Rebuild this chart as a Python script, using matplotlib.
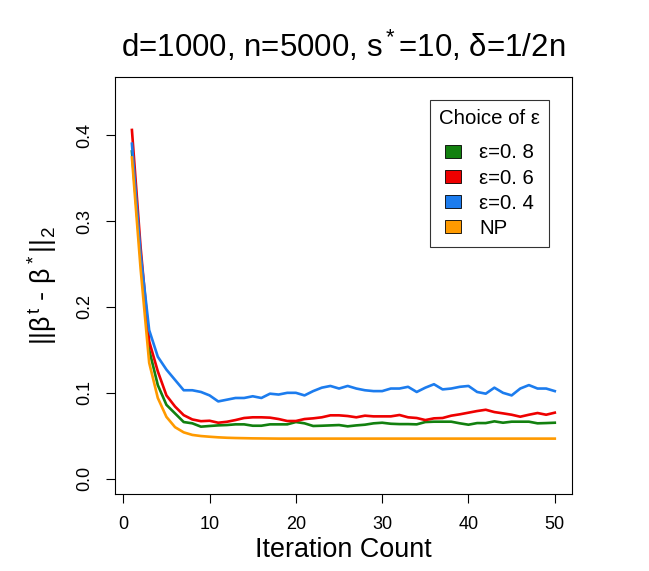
import numpy as np
import matplotlib
matplotlib.use('Agg')
import matplotlib.pyplot as plt
from matplotlib.patches import Patch

plt.rcParams['font.family'] = ['Liberation Sans', 'DejaVu Sans']
plt.rcParams['mathtext.fontset'] = 'custom'
plt.rcParams['mathtext.rm'] = 'Liberation Sans'
plt.rcParams['mathtext.it'] = 'Liberation Sans'
plt.rcParams['mathtext.bf'] = 'Liberation Sans'

iters = np.arange(1, 51)

eps08 = [0.381, 0.258, 0.150, 0.109, 0.086, 0.076, 0.066, 0.0645, 0.0606, 0.0614,
         0.0621, 0.0625, 0.0633, 0.0633, 0.0617, 0.0617, 0.0633, 0.0633, 0.0633, 0.0660,
         0.0645, 0.0614, 0.0617, 0.0621, 0.0625, 0.0610, 0.0621, 0.0629, 0.0645, 0.0652,
         0.0640, 0.0636, 0.0636, 0.0633, 0.0660, 0.0664, 0.0664, 0.0664, 0.0645, 0.0629,
         0.0648, 0.0648, 0.0668, 0.0652, 0.0664, 0.0664, 0.0664, 0.0645, 0.0648, 0.0652]
eps06 = [0.406, 0.270, 0.160, 0.125, 0.097, 0.084, 0.074, 0.069, 0.067, 0.0675,
         0.0652, 0.0663, 0.0683, 0.0707, 0.0715, 0.0715, 0.0711, 0.0695, 0.0672, 0.0672,
         0.0695, 0.0703, 0.0715, 0.0738, 0.0738, 0.0730, 0.0715, 0.0734, 0.0726, 0.0726,
         0.0726, 0.0742, 0.0715, 0.0707, 0.0683, 0.0703, 0.0707, 0.0734, 0.0750, 0.0769,
         0.0788, 0.0803, 0.0776, 0.0761, 0.0745, 0.0722, 0.0745, 0.0765, 0.0745, 0.0769]
eps04 = [0.390, 0.262, 0.173, 0.142, 0.127, 0.115, 0.103, 0.103, 0.101, 0.097,
         0.090, 0.092, 0.094, 0.094, 0.096, 0.094, 0.099, 0.098, 0.100, 0.100,
         0.097, 0.102, 0.106, 0.108, 0.105, 0.108, 0.105, 0.103, 0.102, 0.102,
         0.105, 0.105, 0.107, 0.101, 0.106, 0.110, 0.104, 0.105, 0.107, 0.108,
         0.101, 0.099, 0.106, 0.100, 0.097, 0.105, 0.109, 0.105, 0.105, 0.102]
np_vals = [0.374, 0.245, 0.135, 0.094, 0.072, 0.060, 0.054, 0.051, 0.0497, 0.0489,
           0.0482, 0.0477, 0.0474, 0.0472, 0.0470, 0.0469, 0.0468, 0.0467, 0.0467, 0.0467,
           0.0467, 0.0467, 0.0467, 0.0467, 0.0467, 0.0467, 0.0467, 0.0467, 0.0467, 0.0467,
           0.0467, 0.0467, 0.0467, 0.0467, 0.0467, 0.0467, 0.0467, 0.0467, 0.0467, 0.0467,
           0.0467, 0.0467, 0.0467, 0.0467, 0.0467, 0.0467, 0.0467, 0.0467, 0.0467, 0.0467]

labels = ['ε=0. 8', 'ε=0. 6', 'ε=0. 4', 'NP']
colors = ['#12800F', '#EE0000', '#1C7CEE', '#FF9A00']
series = [eps08, eps06, eps04, np_vals]

fig = plt.figure(figsize=(6.49, 5.71), dpi=100)
ax = fig.add_axes([0.1772, 0.1345, 0.7037, 0.7312])

for y, c in zip(series, colors):
    ax.plot(iters, y, color=c, lw=1.9)

ax.set_xlim(-0.96, 51.96)
ax.set_ylim(-0.018, 0.468)
ax.set_xticks([0, 10, 20, 30, 40, 50])
ax.set_yticks([0.0, 0.1, 0.2, 0.3, 0.4])
ax.set_yticklabels(['0.0', '0.1', '0.2', '0.3', '0.4'], rotation=90, va='center')
ax.tick_params(direction='out', length=6.8, width=0.8, pad=9, labelsize=13)
for s in ax.spines.values():
    s.set_linewidth(0.8)
    s.set_color('black')

ax.set_xlabel('Iteration Count', fontsize=19.4, labelpad=3)
ax.set_ylabel(r'$||\beta^t$ - $\beta^*||_2$', fontsize=19.4, labelpad=12)
ax.set_title(r'd=1000, n=5000, $\mathregular{s^*}$=10, δ=1/2n', fontsize=22.5, pad=14)

handles = [Patch(facecolor=c, edgecolor='black', linewidth=0.6) for c in colors]
leg = ax.legend(handles, labels, title='Choice of ε', loc='upper right',
                bbox_to_anchor=(549.3 / 649, 1 - 100 / 571), bbox_transform=fig.transFigure,
                fontsize=14.7, title_fontsize=14.7, frameon=True, fancybox=False,
                edgecolor='black', handlelength=0.78, handleheight=0.6,
                handletextpad=0.88, labelspacing=0.3, borderpad=0.45, borderaxespad=0)
leg.get_frame().set_linewidth(0.8)
# wider gap between the legend title and the first entry
leg._legend_box.sep = 11

fig.savefig('out.png', dpi=100)
